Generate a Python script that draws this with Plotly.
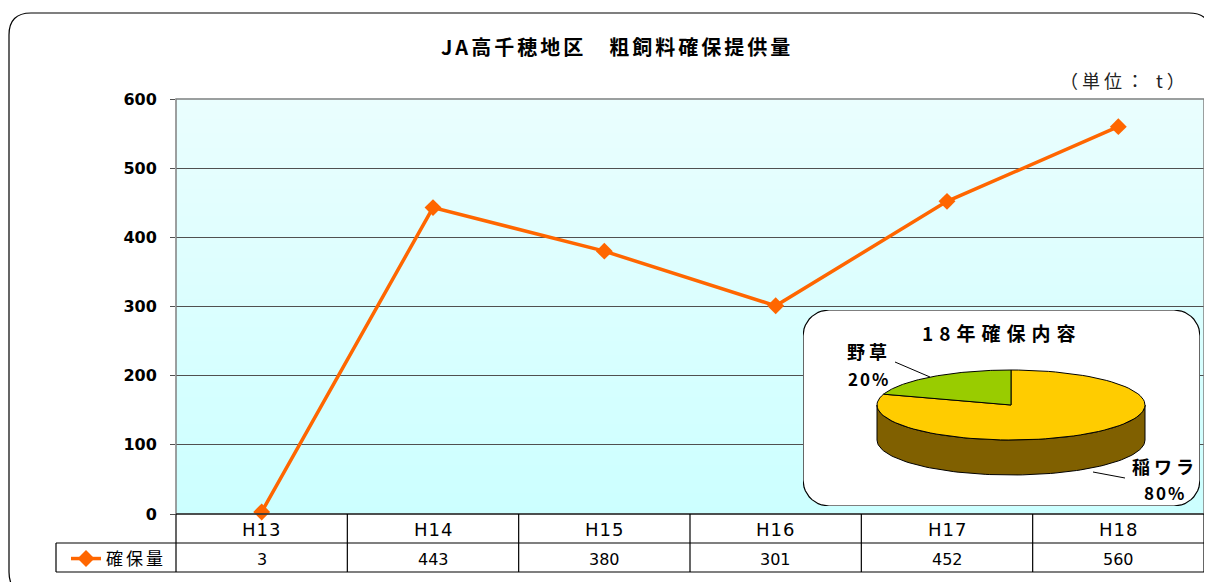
import numpy as np
import plotly.graph_objects as go

# data
categories = ['H13', 'H14', 'H15', 'H16', 'H17', 'H18']
amounts = [3, 443, 380, 301, 452, 560]
series_name = '確保量'

pie_labels = ['稲ワラ', '野草']
pie_shares = [80, 20]
pie_colors = ['#FFCC00', '#99CC00']
pie_title = '18年確保内容'

chart_title = 'JA高千穂地区　粗飼料確保提供量'
unit_text = '（単位： t）'
y_ticks = [0, 100, 200, 300, 400, 500, 600]

JP = 'Noto Sans CJK JP'
ORANGE = '#FF6600'

# page body has an 8px margin, so the figure is drawn 8px smaller
OFF = 8
FIG_W, FIG_H = 1212 - OFF, 582 - OFF

# plot area in screen pixels
L, R, T, B = 176, 1204, 99, 514


def px(x):
    return (x - L) / (R - L)


def py(y):
    return (B - y) / (B - T)


def spaced(s, sp):
    return '<span style="letter-spacing:%gpx">%s</span>' % (sp, s)


fig = go.Figure()

fig.add_trace(go.Scatter(
    x=categories, y=amounts, name=spaced(series_name, 3), mode='lines+markers',
    line=dict(color=ORANGE, width=3.5),
    marker=dict(symbol='diamond', size=13, color=ORANGE),
    cliponaxis=False,
))

# ---- inset pie (drawn on its own little axes, units = pixels) ----
box_w, box_h = 397, 196


def rounded_box(w, h, r, n=12):
    xs, ys = [], []
    corners = [(w - r, h - r, 0, 90), (r, h - r, 90, 180), (r, r, 180, 270), (w - r, r, 270, 360)]
    for ccx, ccy, a0, a1 in corners:
        t = np.radians(np.linspace(a0, a1, n))
        xs += list(ccx + r * np.cos(t))
        ys += list(ccy + r * np.sin(t))
    return xs + [xs[0]], ys + [ys[0]]


bx, by = rounded_box(box_w, box_h, 26)
fig.add_trace(go.Scatter(x=bx, y=by, xaxis='x2', yaxis='y2', mode='lines', fill='toself',
                         fillcolor='white', line=dict(color='black', width=1.2),
                         hoverinfo='skip', showlegend=False))

cx, cy, rx, ry, depth = 208, 101, 134, 35, 35


def arc(t0, t1, dy=0, n=90):
    t = np.radians(np.linspace(t0, t1, n))
    return list(cx + rx * np.cos(t)), list(cy + dy + ry * np.sin(t))


# side wall (front half)
ax1, ay1 = arc(180, 360)
ax2, ay2 = arc(360, 180, dy=-depth)
fig.add_trace(go.Scatter(x=ax1 + ax2 + [ax1[0]], y=ay1 + ay2 + [ay1[0]], xaxis='x2', yaxis='y2',
                         mode='lines', fill='toself', fillcolor='#806000',
                         line=dict(color='black', width=1), hoverinfo='skip', showlegend=False))

total = sum(pie_shares)
start = 90
for lab, share, col in zip(pie_labels, pie_shares, pie_colors):
    end = start - 360 * share / total
    sx, sy = arc(start, end)
    fig.add_trace(go.Scatter(x=[cx] + sx + [cx], y=[cy] + sy + [cy], xaxis='x2', yaxis='y2',
                             mode='lines', fill='toself', fillcolor=col,
                             line=dict(color='black', width=1), hoverinfo='skip',
                             showlegend=False, name=lab))
    start = end

# ---- shapes ----
shapes = []
# gradient plot background
n = 60
c_top = np.array([0xEA, 0xFE, 0xFE])
c_bot = np.array([0xCC, 0xFF, 0xFF])
for i in range(n):
    f = i / (n - 1)
    c = (c_bot + (c_top - c_bot) * f).round().astype(int)
    shapes.append(dict(type='rect', xref='paper', yref='paper', x0=0, x1=1,
                       y0=i / n, y1=(i + 1) / n + 0.002, line_width=0,
                       fillcolor='rgb(%d,%d,%d)' % tuple(c), layer='below'))

# plot area frame
shapes.append(dict(type='rect', xref='paper', yref='paper', x0=0, x1=1, y0=0, y1=1,
                   line=dict(color='#808080', width=1.5)))

# data table grid
col_w = (R - L) / len(categories)
for yy in [514, 543, 572]:
    shapes.append(dict(type='line', xref='paper', yref='paper',
                       x0=px(L if yy == 514 else 56), x1=px(R), y0=py(yy), y1=py(yy),
                       line=dict(color='black', width=1.2)))
shapes.append(dict(type='line', xref='paper', yref='paper', x0=px(56), x1=px(56),
                   y0=py(543), y1=py(572), line=dict(color='black', width=1.2)))
for i in range(len(categories) + 1):
    xx = L + i * col_w
    shapes.append(dict(type='line', xref='paper', yref='paper', x0=px(xx), x1=px(xx),
                       y0=py(514), y1=py(572), line=dict(color='black', width=1.2)))


# outer rounded frame
def P(x, y):
    return '%.5f,%.5f' % (px(x), py(y))


x0f, y0f, x1f, y1f, rr = 9, 13, 1211, 594, 22
path = ('M ' + P(x0f, y1f - rr) + ' L ' + P(x0f, y0f + rr) + ' Q ' + P(x0f, y0f) + ' ' + P(x0f + rr, y0f)
        + ' L ' + P(x1f - rr, y0f) + ' Q ' + P(x1f, y0f) + ' ' + P(x1f, y0f + rr)
        + ' L ' + P(x1f, y1f - rr) + ' Q ' + P(x1f, y1f) + ' ' + P(x1f - rr, y1f)
        + ' L ' + P(x0f + rr, y1f) + ' Q ' + P(x0f, y1f) + ' ' + P(x0f, y1f - rr) + ' Z')
shapes.append(dict(type='path', xref='paper', yref='paper', path=path,
                   line=dict(color='black', width=1.2)))

# pie leader lines
shapes.append(dict(type='line', xref='paper', yref='paper', x0=px(895), y0=py(362), x1=px(930), y1=py(377),
                   line=dict(color='black', width=1)))
shapes.append(dict(type='line', xref='paper', yref='paper', x0=px(1093), y0=py(472), x1=px(1125), y1=py(478),
                   line=dict(color='black', width=1)))


# ---- annotations ----
def note(text, x, y, size, bold=False, xref='paper', color='black', family=JP):
    return dict(text=text, x=x, y=y, xref=xref, yref='paper', showarrow=False,
                xanchor='center', yanchor='middle', align='center',
                font=dict(family=family, size=size, color=color, weight='bold' if bold else 'normal'))


annotations = [
    note(spaced(chart_title, 3), px(617), py(47), 20, bold=True),
    note(spaced(unit_text, 4), px(1124), py(80), 18, color='#222222'),
    note(spaced(pie_title, 6), px(1001), py(332), 19, bold=True),
]
for cat in categories:
    annotations.append(note(spaced(cat, 1), cat, py(529), 18, xref='x', family='DejaVu Sans'))
for cat, val in zip(categories, amounts):
    annotations.append(note(str(val), cat, py(559), 16, xref='x', family='DejaVu Sans'))
label_pos = {'稲ワラ': (1165, 466, 492), '野草': (869, 351, 378)}
for lab, share in zip(pie_labels, pie_shares):
    lx, ly1, ly2 = label_pos[lab]
    annotations.append(note(spaced(lab, 4), px(lx), py(ly1), 18, bold=True))
    annotations.append(note(spaced('%d%%' % round(share / total * 100), 2), px(lx), py(ly2), 17, bold=True))

fig.update_layout(
    width=FIG_W, height=FIG_H,
    margin=dict(l=L - OFF, r=1212 - R, t=T - OFF, b=582 - B, autoexpand=False),
    paper_bgcolor='white', plot_bgcolor='rgba(0,0,0,0)',
    showlegend=True,
    legend=dict(x=px(66), y=py(559), xanchor='left', yanchor='middle', bgcolor='rgba(0,0,0,0)',
                font=dict(family=JP, size=17, color='black'), itemwidth=30),
    shapes=shapes, annotations=annotations,
    xaxis=dict(type='category', range=[-0.5, len(categories) - 0.5], showgrid=False, zeroline=False,
               showline=False, ticks='', showticklabels=False),
    yaxis=dict(range=[0, 600], tickvals=y_ticks, showgrid=True, gridcolor='#505050', gridwidth=1,
               zeroline=False, showline=False, ticks='outside', ticklen=5, tickcolor='#505050',
               ticklabelstandoff=10,
               tickfont=dict(family='DejaVu Sans', size=16, color='black', weight='bold')),
    xaxis2=dict(domain=[px(803), px(803 + box_w)], range=[0, box_w], visible=False, fixedrange=True),
    yaxis2=dict(domain=[py(310 + box_h), py(310)], range=[0, box_h], visible=False, fixedrange=True),
)

fig.write_html('out.html')
